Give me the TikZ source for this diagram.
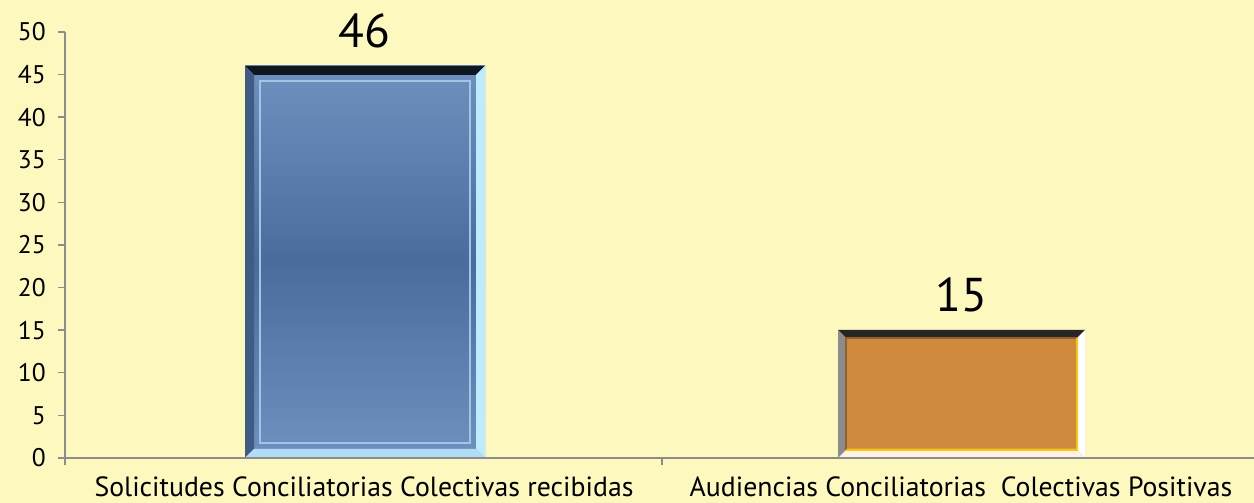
\documentclass[tikz,border=0pt]{standalone}
\usepackage{fontspec}
\setmainfont{PT Sans}
\usepackage{tikz}
\usetikzlibrary{positioning}

\definecolor{bgyellow}{HTML}{FCF8BE}
\definecolor{axisgray}{HTML}{8C8C8C}
\definecolor{bluetop}{HTML}{7090C0}
\definecolor{bluemid}{HTML}{4A6C9C}
\definecolor{bluelight}{HTML}{BDEBFF}
\definecolor{orangeface}{HTML}{D08A3D}

% bar with bevelled edges: x1, x2, top, face, top bevel, left bevel, right bevel, bottom bevel
\newcommand{\bevelbar}[8]{%
  \fill[#4] (#1,45) rectangle (#2,#3);
  \fill[#5] (#1,#3) -- (#2,#3) -- ({#2-9},{#3-9}) -- ({#1+9},{#3-9}) -- cycle;
  \fill[#6] (#1,45) -- (#1,#3) -- ({#1+9},{#3-9}) -- ({#1+9},54) -- cycle;
  \fill[#7] (#2,45) -- (#2,#3) -- ({#2-9},{#3-9}) -- ({#2-9},54) -- cycle;
  \fill[#8] (#1,45) -- (#2,45) -- ({#2-9},54) -- ({#1+9},54) -- cycle;
}

\begin{document}
\begin{tikzpicture}[x=0.02cm, y=0.02cm,
    ticklabel/.style={anchor=east, font=\fontsize{14.5}{16}\selectfont, inner sep=0pt},
    valuelabel/.style={font=\fontsize{27}{30}\selectfont, inner sep=0pt},
    catlabel/.style={font=\fontsize{15.8}{18}\selectfont, inner sep=0pt}]
    \useasboundingbox (0,0) rectangle (1254,503);
    \fill[bgyellow] (0,0) rectangle (1254,503);

    % y axis
    \draw[axisgray, line width=0.8pt] (65,45) -- (65,471);
    \foreach \v in {0,5,...,50} {
        \draw[axisgray, line width=0.8pt] (58,{45+8.52*\v}) -- (65,{45+8.52*\v});
        \node[ticklabel] (tick\v) at (46,{45+8.52*\v}) {\v};
    }

    % bars
    \bevelbar{245}{485}{437}{top color=bluetop, bottom color=bluetop, middle color=bluemid}%
        {black!80!bluemid}{bluemid!85!black}{bluelight}{bluelight!85!bluetop}
    \draw[bluelight!60!bluetop, line width=0.8pt] (260,60) rectangle (470,422);
    \bevelbar{838}{1085}{173}{orangeface}%
        {black!85}{gray!90}{white}{white!90!orange}
    \draw[orangeface!70!black, line width=0.8pt] (846,53) -- (846,165) -- (1077,165);
    \draw[yellow!60!orange, line width=0.8pt] (846,53) -- (1077,53) -- (1077,165);

    % x axis
    \draw[axisgray, line width=0.8pt] (65,45) -- (1254,45);
    \foreach \x in {65,662} {
        \draw[axisgray, line width=0.8pt] (\x,45) -- (\x,38);
    }

    % labels
    \node[valuelabel] (val1) at (364,472) {46};
    \node[valuelabel] (val2) at (961,208) {15};
    \node[catlabel, anchor=base] (cat1) at (364,6) {Solicitudes Conciliatorias Colectivas recibidas};
    \node[catlabel, anchor=base] (cat2) at (961,6) {Audiencias Conciliatorias\ \ Colectivas Positivas};
\end{tikzpicture}
\end{document}
